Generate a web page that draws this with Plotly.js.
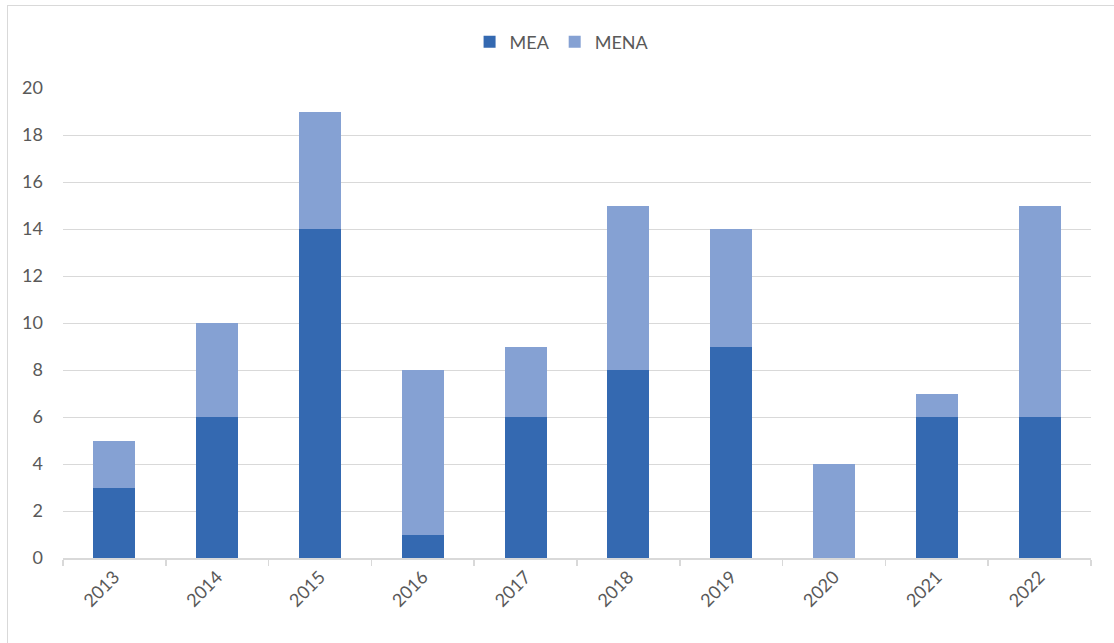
<!DOCTYPE html>
<html>
<head>
<meta charset="utf-8">
<script src="https://cdn.plot.ly/plotly-3.0.1.min.js"></script>
<style>
html,body{margin:0;padding:0;background:#fff;}
#wrap{position:relative;width:1114px;height:643px;}
#chart{width:1114px;height:643px;}
#frame{position:absolute;left:7px;top:5px;width:1120px;height:650px;border:1.5px solid #d9d9d9;pointer-events:none;box-sizing:border-box;}
</style>
</head>
<body>
<div id="wrap"><div id="chart"></div><div id="frame"></div></div>
<script>
const years = ['2013','2014','2015','2016','2017','2018','2019','2020','2021','2022'];
const mea = [3, 6, 14, 1, 6, 8, 9, 0, 6, 6];
const mena = [2, 4, 5, 7, 3, 7, 5, 4, 1, 9];
const yTicks = [0, 2, 4, 6, 8, 10, 12, 14, 16, 18, 20];

const font = {family: 'Lato, "Liberation Sans", sans-serif', size: 18, color: '#595959'};

const traces = [
  {type: 'bar', name: 'MEA', x: years, y: mea, marker: {color: '#3469b1', line: {width: 0}}},
  {type: 'bar', name: 'MENA', x: years, y: mena, marker: {color: '#85a1d3', line: {width: 0}}}
];

const layout = {
  width: 1114, height: 643,
  margin: {l: 63, r: 23, t: 88, b: 85},
  barmode: 'stack',
  bargap: 0.59,
  paper_bgcolor: '#fff', plot_bgcolor: '#fff',
  font: font,
  showlegend: true,
  legend: {orientation: 'h', x: 0.485, xanchor: 'center', y: 1.098, yanchor: 'middle', yref: 'paper',
           font: font, traceorder: 'normal', itemwidth: 30},
  xaxis: {type: 'category', showgrid: false, showline: true, linecolor: '#d9d9d9', linewidth: 1.5,
          ticks: 'outside', tickson: 'boundaries', ticklen: 6, tickcolor: '#d9d9d9', tickwidth: 1.5,
          tickangle: -45, tickfont: font, zeroline: false},
  yaxis: {range: [0, 20], tickvals: yTicks, ticktext: yTicks.map(String), showgrid: true, gridcolor: '#d9d9d9', gridwidth: 1,
          showline: false, zeroline: false, ticks: '', tickfont: font, ticklabelstandoff: 19}
};

Plotly.newPlot('chart', traces, layout, {displayModeBar: false, staticPlot: true});
</script>
</body>
</html>
